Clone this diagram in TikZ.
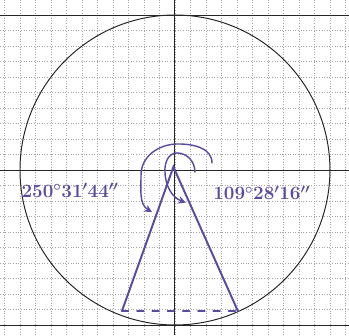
\documentclass[tikz,border=0pt]{standalone}
\usetikzlibrary{arrows.meta}
\definecolor{inkpurple}{RGB}{88,76,158}
\begin{document}
\begin{tikzpicture}[
        x=0.5cm,
        y=0.5cm,
        gridline/.style={
            dash pattern=on 0.8pt off 1.6pt,
            gray!70,
            line width=0.5pt
        },
        axisline/.style={
            black!85,
            line width=0.9pt
        },
        ink/.style={
            draw=inkpurple,
            line width=1.8pt,
            line cap=round
        },
        anglearc/.style={
            draw=inkpurple,
            line width=1.3pt,
            line cap=round,
            -{Stealth[length=7pt,width=7pt]}
        },
        anglelabel/.style={
            text=inkpurple,
            font=\LARGE\boldmath,
            inner sep=0pt
        }
    ]
        \useasboundingbox (-11.29,-10.65) rectangle (11.23,10.97);

        % Squared paper
        \draw[gridline, step=1] (-11.29,-10.65) grid (11.23,10.97);
        \draw[axisline] (-11.29,0) -- (11.23,0);
        \draw[axisline] (0,-10.65) -- (0,10.97);
        \draw[axisline, line width=0.5pt] (-11.29,10) -- (11.23,10);
        \draw[axisline, line width=0.5pt] (-11.29,-10) -- (11.23,-10);

        % Circle
        \coordinate (o) at (0,0);
        \draw[axisline] (o) circle[radius=10];

        % Triangle
        \coordinate (apex) at (-0.1,0.2);
        \coordinate (bl) at (-3.42,-9.1);
        \coordinate (br) at (4.06,-9.1);
        \draw[ink] (bl) -- (apex) -- (br);
        \draw[ink, dash pattern=on 6pt off 8pt] (bl) -- (br);

        % Angle arcs
        \coordinate (outerstart) at (2.39,0.45);
        \coordinate (outerend) at (-1.48,-2.71);
        \draw[anglearc] (outerstart) to[out=90, in=0] (0.19,1.68)
            to[out=180, in=90] (-2.19,-0.32)
            to[out=-90, in=150] (outerend);
        \coordinate (innerstart) at (1.29,-0.13);
        \coordinate (innerend) at (0.7,-2.1);
        \draw[anglearc] (innerstart) to[out=90, in=0] (0.13,1.1)
            to[out=180, in=90] (-0.65,0)
            to[out=-90, in=160] (innerend);

        % Angle values
        \node[anglelabel] (reflex) at (-6.77,-1.29) {$250^\circ 31' 44''$};
        \node[anglelabel] (tetra) at (5.6,-1.48) {$109^\circ 28' 16''$};

    \end{tikzpicture}
\end{document}
